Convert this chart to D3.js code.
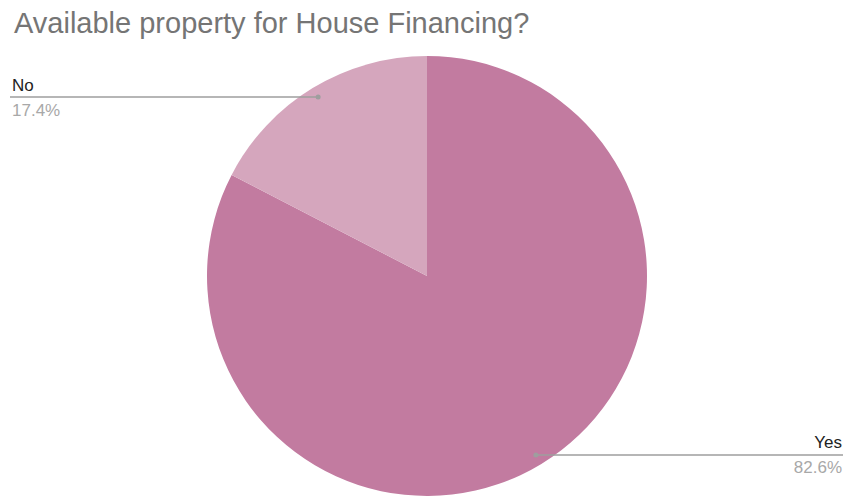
<!DOCTYPE html>
<html>
<head>
<meta charset="utf-8">
<script src="https://cdn.jsdelivr.net/npm/d3@7/dist/d3.min.js"></script>
<style>
  html, body { margin: 0; padding: 0; background: #fff; }
  svg { display: block; font-family: "Liberation Sans", Arial, sans-serif; }
</style>
</head>
<body>
<svg id="chart" width="844" height="497"></svg>
<script>
// Survey answers and their shares (percent)
const categories = ["Yes", "No"];
const values = [82.6, 17.4];
const colors = ["#c27ba0", "#d5a6bd"];

const width = 844, height = 497;
const cx = 427, cy = 276, radius = 220;

const svg = d3.select("#chart");

svg.append("text")
  .attr("x", 14)
  .attr("y", 33)
  .attr("fill", "#757575")
  .attr("font-size", 29)
  .text("Available property for House Financing?");

const pie = d3.pie().sort(null).value(d => d.value);
const data = pie(categories.map((c, i) => ({ name: c, value: values[i], color: colors[i] })));
const arc = d3.arc().innerRadius(0).outerRadius(radius);

const g = svg.append("g").attr("transform", `translate(${cx},${cy})`);

g.selectAll("path.slice")
  .data(data)
  .join("path")
  .attr("class", "slice")
  .attr("d", arc)
  .attr("fill", d => d.data.color);

// Leader lines from inside each slice to the chart edge, with labels
const anchorR = radius * 0.952;
const fmt = d3.format(".1f");

data.forEach(d => {
  const mid = (d.startAngle + d.endAngle) / 2;
  const ax = cx + Math.sin(mid) * anchorR;
  const ay = cy - Math.cos(mid) * anchorR;
  const right = Math.sin(mid) > 0;
  const ex = right ? 843 : 10;

  svg.append("line")
    .attr("x1", ax).attr("y1", ay)
    .attr("x2", ex).attr("y2", ay)
    .attr("stroke", "#9e9e9e")
    .attr("stroke-width", 1.5);

  svg.append("circle")
    .attr("cx", ax).attr("cy", ay)
    .attr("r", 2.5)
    .attr("fill", "#9e9e9e");

  const anchor = right ? "end" : "start";
  const tx = right ? 842 : 12;

  svg.append("text")
    .attr("x", tx).attr("y", ay - 6.5)
    .attr("text-anchor", anchor)
    .attr("fill", "#222")
    .attr("font-size", 17)
    .text(d.data.name);

  svg.append("text")
    .attr("x", tx).attr("y", ay + 18.5)
    .attr("text-anchor", anchor)
    .attr("fill", "#a8a8a8")
    .attr("font-size", 17)
    .text(fmt(d.data.value) + "%");
});
</script>
</body>
</html>
